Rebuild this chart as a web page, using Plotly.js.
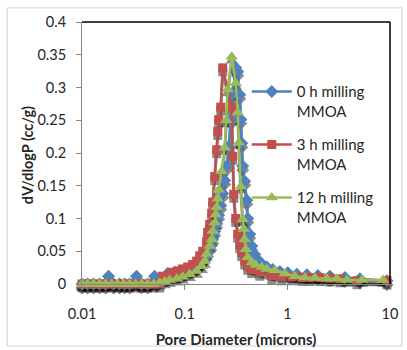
<!DOCTYPE html>
<html>
<head>
<meta charset="utf-8">
<script src="https://cdn.plot.ly/plotly-3.0.1.min.js"></script>
<style>html,body{margin:0;padding:0;background:#fff;}#chart{width:407px;height:350px;}</style>
</head>
<body>
<div id="chart"></div>
<script>
// Pore diameter (microns) and dV/dlogP (cc/g) per series
const seriesNames = ["0 h milling<br>MMOA", "3 h milling<br>MMOA", "12 h milling<br>MMOA"];

const d0h = [0.0100,0.01131,0.01295,0.01482,0.01696,0.01814,0.02029,0.02322,0.02598,0.02906,0.03402,0.03806,0.04355,0.05096,0.05702,0.06825,0.07988,0.08937,0.1023,0.1170,0.1309,0.1432,0.1567,0.1676,0.1793,0.1875,0.1962,0.2051,0.2146,0.2245,0.2348,0.2455,0.2569,0.2687,0.2810,0.2938,0.3144,0.3288,0.3439,0.3517,0.3597,0.3679,0.3848,0.4025,0.4116,0.4305,0.4504,0.4819,0.5155,0.5638,0.6310,0.7221,0.8449,1.011,1.238,1.549,1.984,2.598,3.639,5.096,9.348];
const v0h = [0,0,0,0,0,0.012,0,0,0,0,0.012,0,0,0.012,0.006,0.016,0.018,0.020,0.022,0.025,0.028,0.033,0.040,0.048,0.058,0.068,0.080,0.092,0.105,0.120,0.138,0.158,0.180,0.210,0.250,0.290,0.330,0.324,0.289,0.251,0.215,0.180,0.157,0.128,0.100,0.076,0.058,0.045,0.037,0.031,0.026,0.022,0.019,0.017,0.015,0.014,0.013,0.012,0.010,0.008,0.005];

const d3h = [0.0100,0.01131,0.01295,0.01482,0.01696,0.01940,0.02220,0.02540,0.02906,0.03327,0.03806,0.04355,0.04983,0.05702,0.06101,0.07139,0.07636,0.08544,0.09561,0.1070,0.1197,0.1309,0.1400,0.1498,0.1639,0.1676,0.1753,0.1834,0.1875,0.1962,0.2051,0.2099,0.2146,0.2245,0.2348,0.2873,0.2938,0.3006,0.3144,0.3288,0.3439,0.3597,0.3848,0.4116,0.4504,0.5391,0.7059,0.8836,1.106,1.385,1.658,2.075,2.598,3.252,4.764,9.348];
const v3h = [0,0,0,0,0,0,0,0,0,0,0,0,0,0,0.012,0.015,0.018,0.020,0.023,0.026,0.030,0.035,0.043,0.050,0.065,0.079,0.091,0.108,0.125,0.164,0.205,0.233,0.251,0.270,0.330,0.270,0.195,0.137,0.100,0.076,0.060,0.048,0.035,0.027,0.022,0.018,0.013,0.011,0.011,0.010,0.010,0.010,0.009,0.008,0.005,0.005];

const d12h = [0.0100,0.01131,0.01295,0.01482,0.01696,0.01940,0.02220,0.02540,0.02906,0.03327,0.03806,0.04355,0.04983,0.05702,0.06380,0.07139,0.08356,0.09561,0.1119,0.1309,0.1465,0.1567,0.1639,0.1753,0.1834,0.1875,0.1962,0.2005,0.2051,0.2099,0.2146,0.2296,0.2455,0.2540,0.2627,0.2873,0.3144,0.3288,0.3363,0.3517,0.3679,0.3762,0.3848,0.3936,0.4116,0.4504,0.4928,0.5638,0.6310,0.7551,0.9454,1.184,1.481,1.855,2.429,3.041,3.806,5.332,8.545];
const v12h = [0,0,0,0,0,0,0,0,0,0,0,0,0,0.002,0.004,0.006,0.008,0.011,0.015,0.020,0.027,0.035,0.046,0.058,0.068,0.081,0.094,0.106,0.117,0.130,0.144,0.172,0.208,0.250,0.297,0.347,0.307,0.262,0.216,0.149,0.099,0.084,0.068,0.053,0.041,0.033,0.029,0.026,0.023,0.021,0.016,0.012,0.010,0.009,0.008,0.008,0.006,0.006,0.006];

const xTickVals = [0.01, 0.1, 1, 10];
const xTickText = ["0.01", "0.1", "1", "10"];
const yTickVals = [0, 0.05, 0.1, 0.15, 0.2, 0.25, 0.3, 0.35, 0.4];
const yTickText = ["0", "0.05", "0.1", "0.15", "0.2", "0.25", "0.3", "0.35", "0.4"];
const yTitle = "<b>dV/dlogP (cc/g)</b>";
const xTitle = "<b>Pore Diameter (microns)</b>";

const FONT = "Lato, 'Open Sans', sans-serif";

const seriesDefs = [
  {x: d0h, y: v0h, name: seriesNames[0], color: '#4F81BD', symbol: 'diamond', size: 10, grp: 'a'},
  {x: d3h, y: v3h, name: seriesNames[1], color: '#C0504D', symbol: 'square', size: 9, grp: 'b'},
  {x: d12h, y: v12h, name: seriesNames[2], color: '#9BBB59', symbol: 'triangle-up', size: 11, grp: 'c'}
];

const data = [];
// soft drop shadows (drawn on a twin axis set slightly lower)
seriesDefs.forEach(s => data.push({
  type: 'scatter', mode: 'lines+markers', x: s.x, y: s.y, xaxis: 'x', yaxis: 'y',
  showlegend: false, hoverinfo: 'skip', cliponaxis: false,
  line: {color: 'rgba(0,0,0,0.45)', width: 3},
  marker: {color: 'rgba(0,0,0,0.45)', symbol: s.symbol, size: s.size}
}));
seriesDefs.forEach(s => data.push({
  type: 'scatter', mode: 'lines+markers', x: s.x, y: s.y, xaxis: 'x', yaxis: 'y2',
  name: s.name, legendgroup: s.grp, cliponaxis: false,
  line: {color: s.color, width: 2.5},
  marker: {color: s.color, symbol: s.symbol, size: s.size}
}));

const layout = {
  width: 407, height: 350,
  margin: {l: 82, r: 17, t: 22, b: 62},
  paper_bgcolor: '#ffffff', plot_bgcolor: 'rgba(0,0,0,0)',
  font: {family: FONT, size: 14, color: '#262626'},
  showlegend: true,
  legend: {
    x: 0.535, y: 0.80, xanchor: 'left', yanchor: 'top',
    bgcolor: 'rgba(0,0,0,0)', valign: 'top', tracegroupgap: 11,
    itemwidth: 40,
    font: {family: FONT, size: 15, color: '#262626'}
  },
  xaxis: {
    type: 'log', range: [-2, 1], anchor: 'y2',
    tickvals: xTickVals, ticktext: xTickText,
    showgrid: false, zeroline: false,
    showline: true, linecolor: '#868686', linewidth: 1,
    ticks: 'outside', ticklen: 5, tickcolor: '#868686',
    ticklabelstandoff: 12,
    tickfont: {family: FONT, size: 14.5, color: '#262626'},
    title: {text: xTitle, font: {family: FONT, size: 15, color: '#262626'}, standoff: 13}
  },
  yaxis: {
    range: [0, 0.4], domain: [0, 0.985], visible: false, fixedrange: true
  },
  yaxis2: {
    range: [0, 0.4], domain: [0.015, 1], anchor: 'x',
    tickvals: yTickVals, ticktext: yTickText,
    showgrid: false, zeroline: false,
    showline: true, linecolor: '#868686', linewidth: 1,
    ticks: 'outside', ticklen: 5, tickcolor: '#868686',
    ticklabelstandoff: 7,
    tickfont: {family: FONT, size: 14.5, color: '#262626'}
  },
  annotations: [
    {text: yTitle, xref: 'paper', yref: 'paper', x: -0.178, y: 0.50, xanchor: 'center', yanchor: 'middle',
     textangle: -90, showarrow: false, font: {family: FONT, size: 14.5, color: '#262626'}}
  ],
  shapes: [
    {type: 'line', xref: 'paper', yref: 'paper', x0: 0, x1: 1, y0: 1, y1: 1, line: {color: '#000', width: 1.5}},
    {type: 'line', xref: 'paper', yref: 'paper', x0: 1, x1: 1, y0: 0.015, y1: 1, line: {color: '#000', width: 1.5}},
    {type: 'rect', xref: 'paper', yref: 'paper', x0: -0.243, x1: 1.039, y0: -0.218, y1: 1.053, line: {color: '#d0d0d0', width: 1}, layer: 'below'}
  ]
};

Plotly.newPlot('chart', data, layout, {displayModeBar: false, staticPlot: true});
</script>
</body>
</html>
